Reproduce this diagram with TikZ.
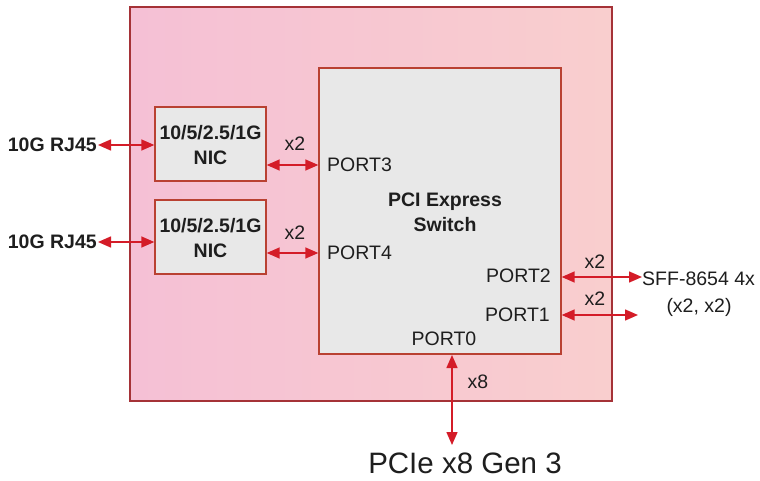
\documentclass[tikz,border=0pt]{standalone}
\usepackage{fontspec}
\setmainfont{Liberation Sans}
\usetikzlibrary{arrows.meta,calc}
\definecolor{outerL}{RGB}{245,192,213}
\definecolor{outerR}{RGB}{249,206,206}
\definecolor{outerB}{RGB}{165,50,55}
\definecolor{boxF}{RGB}{232,232,232}
\definecolor{boxB}{RGB}{185,65,50}
\definecolor{arr}{RGB}{212,28,40}
\definecolor{txt}{RGB}{30,30,30}
\tikzset{
  lbl/.style={font=\fontsize{19.5}{22}\selectfont, text=txt, inner sep=0pt},
  blbl/.style={font=\fontsize{19.5}{25}\selectfont\bfseries, text=txt, inner sep=0pt, align=center},
  chip/.style={draw=boxB, line width=1.4pt, fill=boxF, minimum width=111pt, minimum height=74pt, inner sep=0pt},
  link/.style={draw=arr, line width=1.5pt, {Triangle[length=13pt,width=11pt]}-{Triangle[length=13pt,width=11pt]}}
}
\begin{document}
\begin{tikzpicture}[x=1pt,y=-1pt]
\useasboundingbox (0,0) rectangle (760,481);
\fill[white] (0,0) rectangle (760,481);
% outer board
\shade[left color=outerL, right color=outerR] (130,7) rectangle (612,401);
\draw[outerB, line width=1.4pt] (130,7) rectangle (612,401);
% switch
\node[chip, minimum width=242pt, minimum height=286pt] (sw) at (440,211) {};
\node[blbl] (swt) at (445,212) {PCI Express\\Switch};
% NICs
\node[chip] (nic1) at (210.5,144) {};
\node[blbl] (nic1t) at (210.5,145) {10/5/2.5/1G\\NIC};
\node[chip] (nic2) at (210.5,237) {};
\node[blbl] (nic2t) at (210.5,238) {10/5/2.5/1G\\NIC};
% RJ45 labels
\node[blbl, anchor=east] (rj1) at (97,145) {10G RJ45};
\node[blbl, anchor=east] (rj2) at (97,242) {10G RJ45};
% ports
\node[lbl, anchor=west] (port3) at (327,165) {PORT3};
\node[lbl, anchor=west] (port4) at (327,253) {PORT4};
\node[lbl, anchor=east] (port2) at (551,276) {PORT2};
\node[lbl, anchor=east] (port1) at (550,315) {PORT1};
\node[lbl] (port0) at (444,339) {PORT0};
% width labels
\node[lbl] (w3) at (295,144) {x2};
\node[lbl] (w4) at (295,233) {x2};
\node[lbl] (w2) at (595,262) {x2};
\node[lbl] (w1) at (595,299) {x2};
\node[lbl] (w0) at (478,382) {x8};
% external labels
\node[lbl, anchor=west] (sff) at (642,279) {SFF-8654 4x};
\node[lbl] (sff2) at (699,307) {(x2, x2)};
\node[font=\fontsize{29.5}{32}\selectfont, text=txt, inner sep=0pt] (pcie) at (465,463) {PCIe x8 Gen 3};
\coordinate (p1end) at (638,315);
\coordinate (p0end) at (452,445);
\coordinate (p0start) at (452,355);
% connectors
\draw[link] (rj1.east) ++(1,0) -- (nic1.west |- rj1.east);
\draw[link] (rj2.east) ++(1,0) -- (nic2.west |- rj2.east);
\draw[link] (nic1.east |- port3) -- (sw.west |- port3);
\draw[link] (nic2.east |- port4) -- (sw.west |- port4);
\draw[link] (sw.east |- 0,277) -- (sff.west |- 0,277);
\draw[link] (sw.east |- p1end) -- (p1end);
\draw[link] (p0start) -- (p0end);
\end{tikzpicture}
\end{document}
